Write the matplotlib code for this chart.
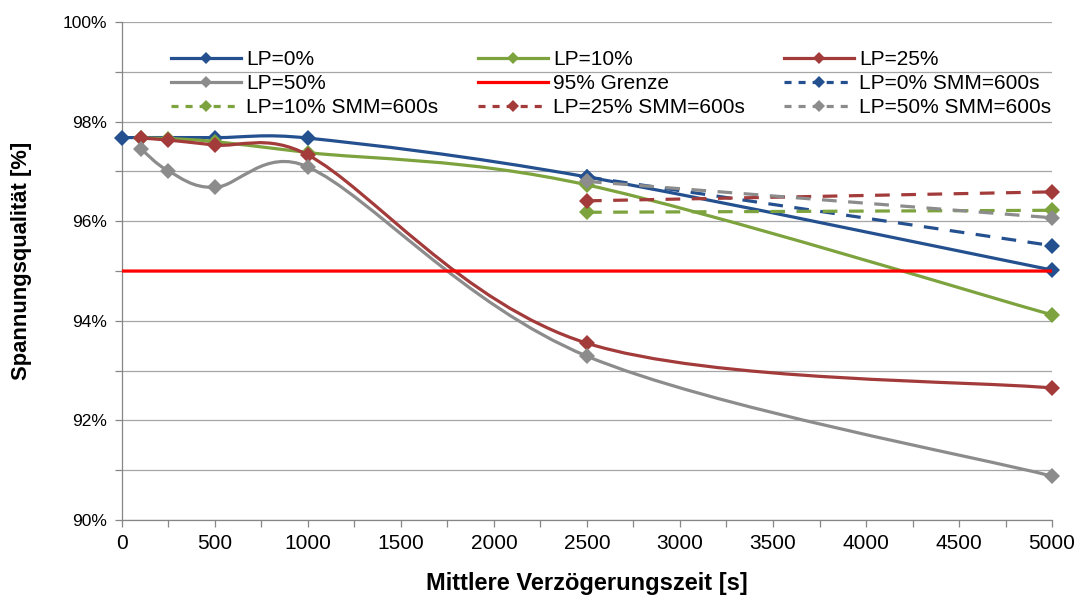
import numpy as np
import matplotlib
matplotlib.use("Agg")
import matplotlib.pyplot as plt
from matplotlib.path import Path
from matplotlib.patches import PathPatch
from matplotlib.lines import Line2D
from matplotlib.ticker import MultipleLocator, FuncFormatter
from matplotlib import font_manager

# ---------------- data ----------------
x_lp0 = [0, 500, 1000, 2500, 5000]
y_lp0 = [97.68, 97.68, 97.67, 96.89, 95.02]

x_lp10 = [100, 250, 500, 1000, 2500, 5000]
y_lp10 = [97.67, 97.66, 97.60, 97.38, 96.73, 94.12]

x_lp25 = [100, 250, 500, 1000, 2500, 5000]
y_lp25 = [97.67, 97.63, 97.53, 97.33, 93.55, 92.65]

x_lp50 = [100, 250, 500, 1000, 2500, 5000]
y_lp50 = [97.46, 97.01, 96.68, 97.09, 93.29, 90.88]

x_grenze = [0, 5000]
y_grenze = [95.0, 95.0]

x_smm = [2500, 5000]
y_lp0_smm = [96.89, 95.51]
y_lp10_smm = [96.18, 96.22]
y_lp25_smm = [96.41, 96.59]
y_lp50_smm = [96.80, 96.07]

labels = ["LP=0%", "LP=10%", "LP=25%", "LP=50%", "95% Grenze",
          "LP=0% SMM=600s", "LP=10% SMM=600s", "LP=25% SMM=600s", "LP=50% SMM=600s"]

x_ticks = [0, 500, 1000, 1500, 2000, 2500, 3000, 3500, 4000, 4500, 5000]
y_ticks = [90, 92, 94, 96, 98, 100]

# ---------------- style ----------------
BLUE = "#24508F"
GREEN = "#7DA33E"
RED = "#A33B3B"
GRAY = "#8C8C8C"
LIMIT = "#FF0000"

avail = {f.name for f in font_manager.fontManager.ttflist}
base_font = "Liberation Sans" if "Liberation Sans" in avail else "DejaVu Sans"
plt.rcParams["font.family"] = [base_font, "DejaVu Sans"]

fig = plt.figure(figsize=(10.84, 5.97), dpi=100)
ax = fig.add_axes([0.1125, 0.129, 0.858, 0.834])
ax.set_xlim(0, 5000)
ax.set_ylim(90, 100)


def smooth_path(xs, ys):
    """Excel-style smoothed line: cubic Bezier segments (computed in display space)."""
    pts = ax.transData.transform(np.column_stack([xs, ys]).astype(float))
    n = len(pts)
    verts = [pts[0]]
    codes = [Path.MOVETO]
    for i in range(n - 1):
        p0 = pts[i - 1] if i > 0 else pts[i]
        p1 = pts[i]
        p2 = pts[i + 1]
        p3 = pts[i + 2] if i + 2 < n else pts[i + 1]
        d02 = np.hypot(*(p2 - p0))
        d12 = np.hypot(*(p2 - p1))
        d13 = np.hypot(*(p3 - p1))
        f0 = 1 / 6 if (d02 == 0 or d02 / 6 < d12 / 2) else d12 / 2 / d02
        f1 = 1 / 6 if (d13 == 0 or d13 / 6 < d12 / 2) else d12 / 2 / d13
        c1 = p1 + f0 * (p2 - p0)
        c2 = p2 - f1 * (p3 - p1)
        verts += [c1, c2, p2]
        codes += [Path.CURVE4] * 3
    verts = ax.transData.inverted().transform(np.array(verts))
    return Path(verts, codes)


LW = 2.3
MS = 8.5
DASH = (0, (4.6, 3.6))

series = [
    (x_lp0, y_lp0, BLUE, "-", True),
    (x_lp10, y_lp10, GREEN, "-", True),
    (x_lp25, y_lp25, RED, "-", True),
    (x_lp50, y_lp50, GRAY, "-", True),
    (x_grenze, y_grenze, LIMIT, "-", False),
    (x_smm, y_lp0_smm, BLUE, DASH, True),
    (x_smm, y_lp10_smm, GREEN, DASH, True),
    (x_smm, y_lp25_smm, RED, DASH, True),
    (x_smm, y_lp50_smm, GRAY, DASH, True),
]

handles = []
z = 3
for (xs, ys, col, ls, mk), lab in zip(series, labels):
    patch = PathPatch(smooth_path(xs, ys), facecolor="none", edgecolor=col,
                      lw=LW, linestyle=ls, zorder=z, clip_on=False,
                      capstyle="butt", joinstyle="round")
    ax.add_patch(patch)
    if mk:
        ax.plot(xs, ys, linestyle="none", marker="D", ms=MS, color=col,
                markeredgewidth=0, zorder=z + 0.5, clip_on=False)
    hls = (0, (2.2, 2.2)) if ls != "-" else "-"
    handles.append(Line2D([], [], color=col, lw=LW, linestyle=hls,
                          marker="D" if mk else None, ms=6,
                          markeredgewidth=0))
    z += 1

ax.set_xticks(x_ticks)
ax.xaxis.set_minor_locator(MultipleLocator(250))
ax.set_yticks(y_ticks)
ax.yaxis.set_minor_locator(MultipleLocator(1))
ax.yaxis.set_major_formatter(FuncFormatter(lambda v, p: f"{v:.0f}%"))

for lab in ax.get_xticklabels():
    lab.set_fontsize(15)
for lab in ax.get_yticklabels():
    lab.set_fontsize(12.5)

ax.grid(True, which="both", axis="y", color="#A6A6A6", lw=0.9, zorder=0)
ax.set_axisbelow(True)
ax.tick_params(axis="both", which="both", direction="out", color="#868686",
               length=5, width=0.9, colors="black")
ax.tick_params(axis="both", which="both", color="#868686")
ax.tick_params(axis="y", which="major", pad=6)
ax.tick_params(axis="x", which="major", pad=5)

for s in ["top", "right"]:
    ax.spines[s].set_visible(False)
for s in ["left", "bottom"]:
    ax.spines[s].set_color("#868686")
    ax.spines[s].set_linewidth(0.9)

ax.set_xlabel("Mittlere Verzögerungszeit [s]", fontsize=17, fontweight="bold")
ax.set_ylabel("Spannungsqualität [%]", fontsize=15.8, fontweight="bold")
ax.xaxis.set_label_coords(0.5, -0.105)
ax.yaxis.set_label_coords(-0.097, 0.52)

# legend: row-wise order in reference -> column-wise for matplotlib
order = [0, 3, 6, 1, 4, 7, 2, 5, 8]
leg = ax.legend([handles[i] for i in order], [labels[i] for i in order],
                ncol=3, loc="upper left", bbox_to_anchor=(0.053, 0.943),
                frameon=False, fontsize=15, handlelength=3.35,
                handletextpad=0.25, columnspacing=1.9, labelspacing=0.23,
                borderaxespad=0, borderpad=0)

fig.savefig("out.png", dpi=100)
